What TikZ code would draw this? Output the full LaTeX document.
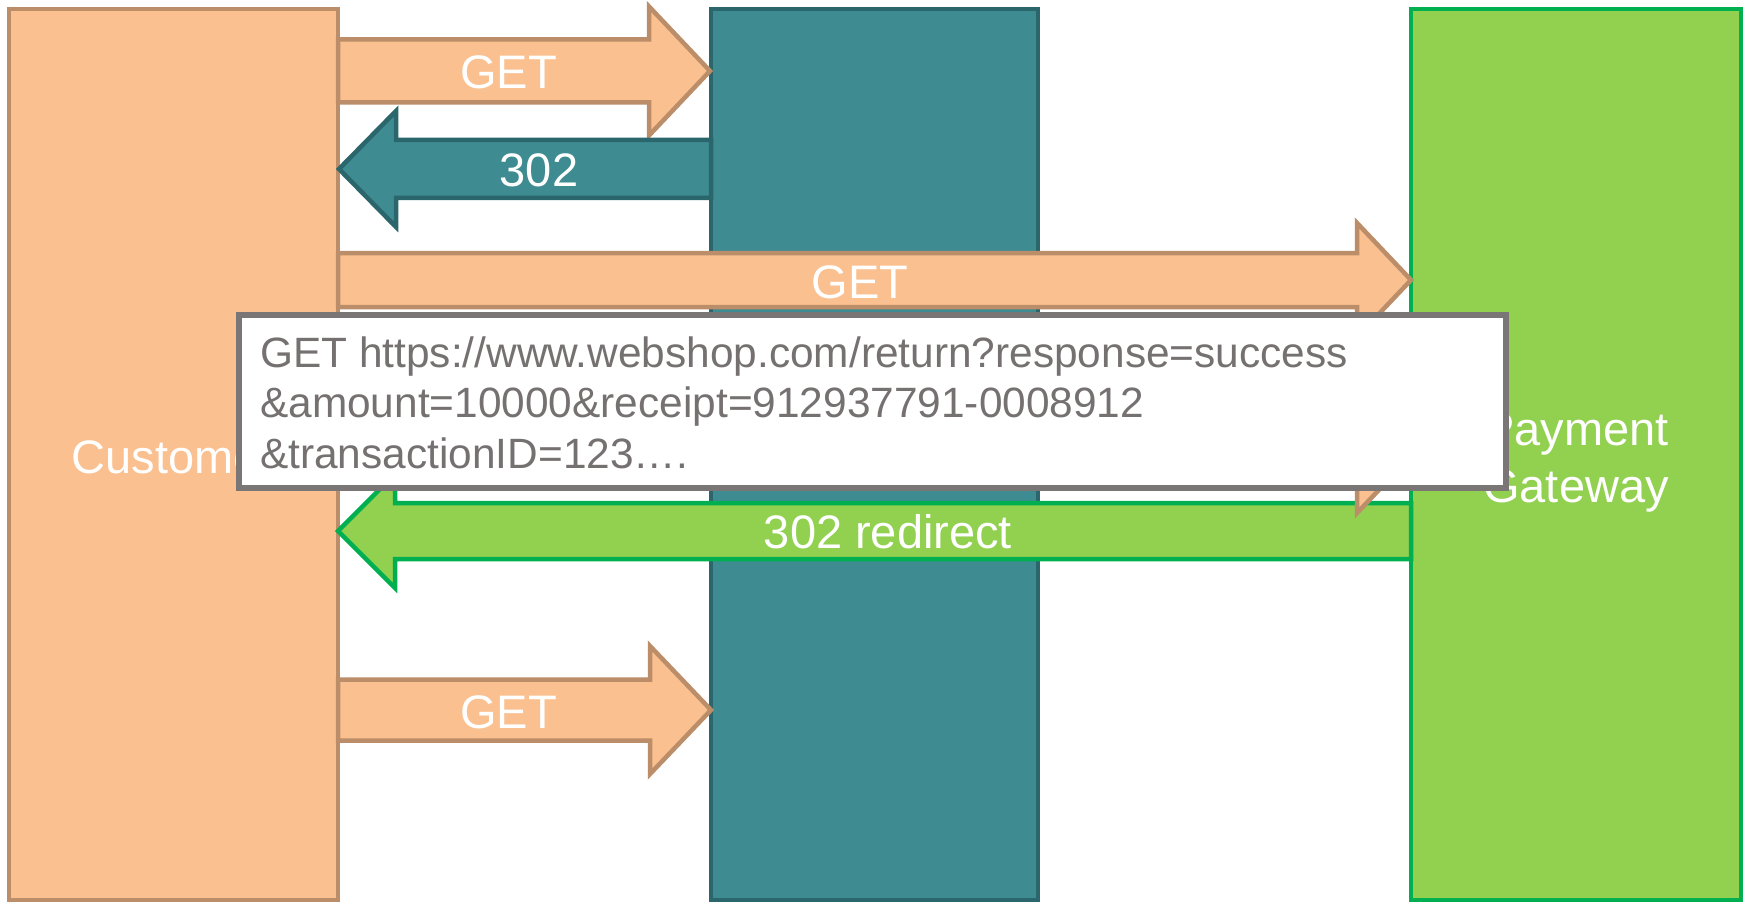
\documentclass[tikz,border=0pt]{standalone}
\usepackage{fontspec}
\setmainfont{Liberation Sans}
\definecolor{peach}{HTML}{FAC090}
\definecolor{peachline}{HTML}{BB8D68}
\definecolor{tealfill}{HTML}{3F8B92}
\definecolor{tealline}{HTML}{2A666B}
\definecolor{limefill}{HTML}{92D050}
\definecolor{limeline}{HTML}{00B050}
\definecolor{noteline}{HTML}{7A7676}
\definecolor{notetext}{HTML}{767171}

% block arrow: style, tail x, head base x, tip x, centre y, body half height, head half height
\newcommand\blockarrow[7]{%
  \draw[#1] (#2,#5-#6) -- (#3,#5-#6) -- (#3,#5-#7) -- (#4,#5)
    -- (#3,#5+#7) -- (#3,#5+#6) -- (#2,#5+#6) -- cycle;}

\begin{document}
\begin{tikzpicture}[x=1pt,y=-1pt,
  party/.style={rectangle, outer sep=0pt, inner sep=0pt},
  peachshape/.style={fill=peach, draw=peachline, line width=4.5pt},
  tealshape/.style={fill=tealfill, draw=tealline, line width=4.5pt},
  limeshape/.style={fill=limefill, draw=limeline, line width=4.5pt},
  lbl/.style={text=white, inner sep=0pt, font=\fontsize{47}{57}\selectfont},
  notebox/.style={rectangle, fill=white, draw=noteline, line width=5.5pt, outer sep=0pt, inner sep=0pt},
  notetxt/.style={text=notetext, inner sep=0pt, align=left, font=\fontsize{42.4}{50.5}\selectfont}]
\useasboundingbox (0,0) rectangle (1747,904);
\fill[white] (0,0) rectangle (1747,904);

% the three parties
\node[party, peachshape, minimum width=329pt, minimum height=891pt] (cust) at (173.5,454.5) {};
\node[party, tealshape, minimum width=327pt, minimum height=891pt] (shop) at (874.5,454.5) {};
\node[party, limeshape, minimum width=330pt, minimum height=891pt] (gate) at (1576,454.5) {};

% customer -> webshop
\blockarrow{peachshape}{338}{649}{710}{71}{31.5}{64.5}
\node[lbl, anchor=base] (get1) at (508.5,89) {GET};
% webshop -> customer
\blockarrow{tealshape}{711}{396}{339}{169}{29}{58}
\node[lbl, anchor=base] (r302) at (539,187) {302};
% customer -> gateway
\blockarrow{peachshape}{338}{1357}{1411}{280}{27}{57}
\node[lbl, anchor=base] (get2) at (860,298) {GET};
% gateway -> customer
\blockarrow{limeshape}{1411}{395}{338}{531}{28}{57}
\node[lbl, anchor=base] (redir) at (888,548) {302 redirect};
% customer -> gateway (second request)
\blockarrow{peachshape}{338}{1357}{1411}{456}{27}{57}
% customer -> webshop (return)
\blockarrow{peachshape}{338}{650}{711}{710}{30.5}{64}
\node[lbl, anchor=base] (get3) at (508.5,728) {GET};

% party names (base anchor sits on the last line)
\node[lbl, anchor=base] (custname) at (173.5,473) {Customer};
\node[lbl, anchor=base, align=center] (gatename) at (1576,502) {Payment\\Gateway};

% return URL callout
\node[notebox, minimum width=1267pt, minimum height=173pt] (note) at (872.5,401.5) {};
\node[notetxt, anchor=base west] (notetext) at (260,468)
  {GET https://www.webshop.com/return?response=success\\
   \&amount=10000\&receipt=912937791-0008912\\
   \&transactionID=123….};
\end{tikzpicture}
\end{document}
